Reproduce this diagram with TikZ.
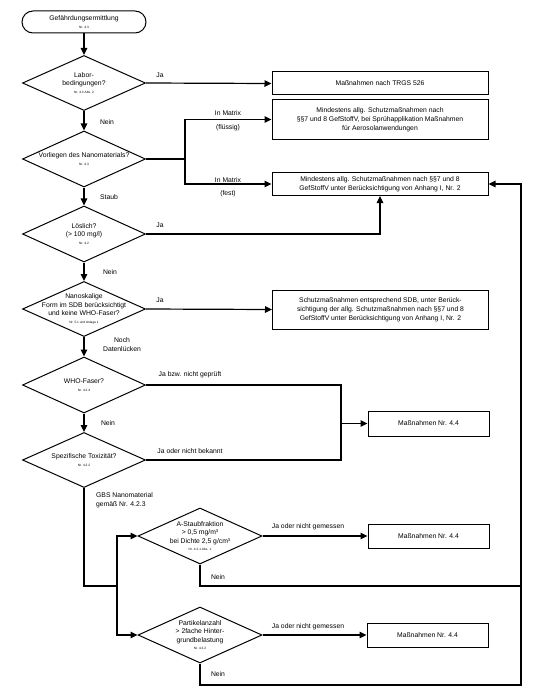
\documentclass[tikz,border=0pt]{standalone}
\usepackage{fontspec}
\setmainfont{Liberation Sans}
\usetikzlibrary{positioning,shapes.geometric,arrows.meta}
\newcommand{\nrtext}[1]{{\fontsize{3.2}{3.6}\selectfont #1}}
\tikzset{
  term/.style={draw=black,line width=1pt,rounded corners=11pt,minimum width=124pt,
    minimum height=22pt,inner sep=0pt,align=center,font=\fontsize{6.8}{8.6}\selectfont},
  dec/.style={diamond,draw=black,line width=1pt,minimum width=123pt,minimum height=55pt,inner sep=0pt},
  dtxt/.style={align=center,inner sep=0pt,font=\fontsize{6.8}{8.6}\selectfont},
  act/.style={draw=black,line width=1pt,align=center,inner sep=1pt,font=\fontsize{6.8}{9}\selectfont},
  bigbox/.style={act,minimum width=216pt},
  smallbox/.style={act,minimum width=121pt,minimum height=24pt},
  lbl/.style={inner sep=0pt,align=center,font=\fontsize{6.8}{9}\selectfont},
  edge/.style={draw=black,line width=1.2pt},
  arr/.style={edge,-{Triangle[length=7pt,width=6.5pt]}},
}

\begin{document}
\begin{tikzpicture}[x=1pt,y=-1pt]
  \useasboundingbox (0,0) rectangle (539,698);
  % linke Spalte
  \node[term] (start) at (84,22) {Gefährdungsermittlung\\[-1pt]\nrtext{Nr. 4.3}};
  \node[dec] (labor) at (84,83) {};
  \node[dtxt] (labor-t) at (labor) {Labor-\\bedingungen?\\[-1pt]\nrtext{Nr. 4.3 Abs. 2}};
  \node[dec,minimum height=56pt] (nano) at (84,159) {};
  \node[dtxt] (nano-t) at (nano) {Vorliegen des Nanomaterials?\\[-1pt]\nrtext{Nr. 4.3}};
  \node[dec,minimum height=56pt] (loes) at (84,234) {};
  \node[dtxt] (loes-t) at (loes) {Löslich?\\(> 100 mg/l)\\[-1pt]\nrtext{Nr. 4.2}};
  \node[dec] (form) at (84,309) {};
  \node[dtxt] (form-t) at (form) {Nanoskalige\\Form im SDB berücksichtigt\\und keine WHO-Faser?\\[-1pt]\nrtext{Nr. 5.1 und Anlage 1}};
  \node[dec,minimum height=56pt] (who) at (84,385) {};
  \node[dtxt] (who-t) at (who) {WHO-Faser?\\[-1pt]\nrtext{Nr. 4.2.4}};
  \node[dec] (tox) at (84,460) {};
  \node[dtxt] (tox-t) at (tox) {Spezifische Toxizität?\\[-1pt]\nrtext{Nr. 4.2.2}};
  \node[dec,minimum width=124pt,minimum height=56pt] (staub) at (200,536) {};
  \node[dtxt] (staub-t) at (staub) {A-Staubfraktion\\> 0,5 mg/m³\\bei Dichte 2,5 g/cm³\\[-1pt]\nrtext{Nr. 4.2.1 Abs. 1}};
  \node[dec,minimum width=124pt,minimum height=56pt] (part) at (200,635) {};
  \node[dtxt] (part-t) at (part) {Partikelanzahl\\> 2fache Hinter-\\grundbelastung\\[-1pt]\nrtext{Nr. 4.3.2}};

  % Maßnahmen
  \node[bigbox,minimum height=23pt] (trgs) at (380,83.5) {Maßnahmen nach TRGS 526};
  \node[bigbox,minimum height=39pt] (aero) at (380,119.5) {Mindestens allg. Schutzmaßnahmen nach\\§§7 und 8 GefStoffV, bei Sprühapplikation Maßnahmen\\für Aerosolanwendungen};
  \node[bigbox,minimum height=23pt] (allg) at (380,184) {Mindestens allg. Schutzmaßnahmen nach §§7 und 8\\GefStoffV unter Berücksichtigung von Anhang I, Nr. 2};
  \node[bigbox,minimum height=39pt] (sdb) at (380.5,309.5) {Schutzmaßnahmen entsprechend SDB, unter Berück-\\sichtigung der allg. Schutzmaßnahmen nach §§7 und 8\\GefStoffV unter Berücksichtigung von Anhang I, Nr. 2};
  \node[smallbox,minimum height=25pt] (m1) at (428.5,423.5) {Maßnahmen Nr. 4.4};
  \node[smallbox] (m2) at (428.5,536) {Maßnahmen Nr. 4.4};
  \node[smallbox] (m3) at (427.5,635) {Maßnahmen Nr. 4.4};

  \coordinate (mx) at (185,159);
  \coordinate (jt) at (341,423.5);
  \coordinate (split) at (117,586);
  \coordinate (back) at (521,685);

  % Verbindungen
  \draw[arr] (start) -- (labor);
  \draw[arr] (labor) -- (nano);
  \draw[arr] (nano) -- (loes);
  \draw[arr] (loes) -- (form);
  \draw[arr] (form) -- (who);
  \draw[arr] (who) -- (tox);
  \draw[arr] (labor.east) -- (trgs.west);
  \draw[edge] (nano.east) -- (mx);
  \draw[arr] (mx) |- (aero.west);
  \draw[arr] (mx) |- (allg.west);
  \draw[arr] (loes.east) -| (allg.south);
  \draw[arr] (form.east) -- (sdb.west);
  \draw[edge] (who.east) -| (jt);
  \draw[edge] (tox.east) -| (jt);
  \draw[arr] (jt) -- (m1.west);
  \draw[edge] (tox.south) |- (split);
  \draw[arr] (split) |- (staub.west);
  \draw[arr] (split) |- (part.west);
  \draw[arr] (staub.east) -- (m2.west);
  \draw[arr] (part.east) -- (m3.west);
  \draw[edge] (staub.south) |- (split -| back);
  \draw[arr] (part.south) |- (back) |- (allg.east);

  % Beschriftungen
  \node[lbl] (ja1) at (160,75) {Ja};
  \node[lbl] (nein1) at (107,122) {Nein};
  \node[lbl] (fl1) at (228,113) {In Matrix};
  \node[lbl] (fl2) at (228,128) {(flüssig)};
  \node[lbl] (fe1) at (228,180) {In Matrix};
  \node[lbl] (fe2) at (228,194) {(fest)};
  \node[lbl] (stb) at (109,197) {Staub};
  \node[lbl] (ja2) at (160,225) {Ja};
  \node[lbl] (nein2) at (110,272) {Nein};
  \node[lbl] (ja3) at (160,300) {Ja};
  \node[lbl] (luecken) at (122,344.5) {Noch\\Datenlücken};
  \node[lbl] (ja4) at (190,375) {Ja bzw. nicht geprüft};
  \node[lbl] (nein3) at (108,423) {Nein};
  \node[lbl] (ja5) at (190,451) {Ja oder nicht bekannt};
  \node[lbl,align=left,anchor=west] (gbs) at (96,500.5) {GBS Nanomaterial\\gemäß Nr. 4.2.3};
  \node[lbl] (ja6) at (308,527) {Ja oder nicht gemessen};
  \node[lbl] (ja7) at (308,627) {Ja oder nicht gemessen};
  \node[lbl] (nein4) at (218,577) {Nein};
  \node[lbl] (nein5) at (218,674) {Nein};
\end{tikzpicture}
\end{document}
